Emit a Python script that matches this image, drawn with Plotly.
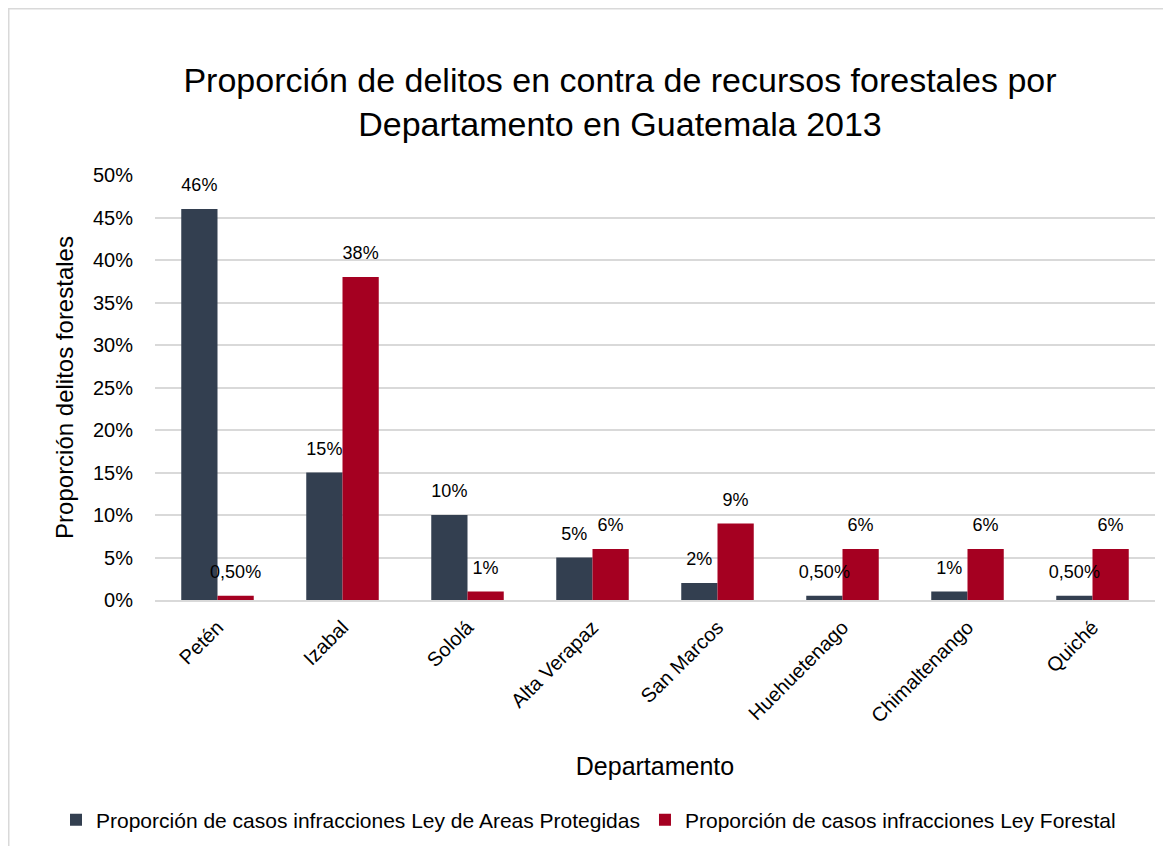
import plotly.graph_objects as go

departamentos = ["Petén", "Izabal", "Sololá", "Alta Verapaz", "San Marcos",
                 "Huehuetenago", "Chimaltenango", "Quiché"]
areas_protegidas = [46, 15, 10, 5, 2, 0.5, 1, 0.5]
ley_forestal = [0.5, 38, 1, 6, 9, 6, 6, 6]
serie_nombres = ["Proporción de casos infracciones Ley de Areas Protegidas",
                 "Proporción de casos infracciones Ley Forestal"]
y_ticks = [0, 5, 10, 15, 20, 25, 30, 35, 40, 45, 50]
y_ticktext = ["0%", "5%", "10%", "15%", "20%", "25%", "30%", "35%", "40%", "45%", "50%"]


def etiqueta(v):
    if float(v).is_integer():
        return f"{int(v)}%"
    return f"{v:.2f}".replace(".", ",") + "%"


FONT = "Liberation Sans"
OFF = 8  # page body margin
W, H = 1171 - 2 * OFF, 854 - 2 * OFF
L, T = 155 - OFF, 175 - OFF
R = W - (1155 - OFF)
B = H - (600 - OFF)
pw, ph = W - L - R, H - T - B


def px_x(page_x):
    return (page_x - OFF - L) / pw


def px_y(page_y):
    return (T + ph - (page_y - OFF)) / ph


colores = ["#333F50", "#A50021"]
fig = go.Figure()
for nombre, vals, color in zip(serie_nombres, [areas_protegidas, ley_forestal], colores):
    fig.add_trace(go.Bar(
        x=departamentos, y=vals, name=nombre, offsetgroup=nombre,
        marker=dict(color=color, line=dict(width=0)),
    ))
for nombre, vals in zip(serie_nombres, [areas_protegidas, ley_forestal]):
    fig.add_trace(go.Scatter(
        x=departamentos, y=vals, mode="markers+text", offsetgroup=nombre,
        marker=dict(size=20, opacity=0), showlegend=False, hoverinfo="skip",
        text=[etiqueta(v) for v in vals], textposition="top center",
        textfont=dict(family=FONT, size=18, color="#000000"), cliponaxis=False,
    ))

fig.add_shape(type="rect", xref="paper", yref="paper",
              x0=px_x(OFF + 0.75), x1=px_x(1190),
              y0=px_y(880), y1=px_y(OFF + 0.75),
              line=dict(color="#D9D9D9", width=1.5), layer="below")

fig.update_layout(
    width=W, height=H,
    margin=dict(l=L, r=R, t=T, b=B, autoexpand=False),
    paper_bgcolor="white", plot_bgcolor="white",
    barmode="group", bargap=0.42, bargroupgap=0,
    scattermode="group", scattergap=0.42,
    title=dict(text="Proporción de delitos en contra de recursos forestales por<br>Departamento en Guatemala 2013",
               x=(620 - OFF) / W, xanchor="center", y=1 - (92 - OFF) / H, yanchor="middle",
               font=dict(family=FONT, size=34, color="#000000")),
    font=dict(family=FONT, color="#000000"),
    xaxis=dict(title=dict(text="Departamento", font=dict(family=FONT, size=25), standoff=32),
               tickangle=-45, tickfont=dict(family=FONT, size=20), ticklabelstandoff=6,
               showline=True, linecolor="#D9D9D9", linewidth=1.5, ticks=""),
    yaxis=dict(title=dict(text="Proporción delitos forestales", font=dict(family=FONT, size=24), standoff=12),
               range=[0, 50], tickvals=y_ticks, ticktext=y_ticktext,
               tickfont=dict(family=FONT, size=20), ticklabelstandoff=21,
               showgrid=True, gridcolor="#D9D9D9", gridwidth=1.5,
               zeroline=False, showline=False, ticks=""),
    legend=dict(orientation="h", x=px_x(56), xanchor="left",
                y=px_y(820), yanchor="middle", bgcolor="rgba(0,0,0,0)",
                font=dict(family=FONT, size=21), traceorder="normal",
                itemwidth=30),
)

fig.write_html("out.html")
